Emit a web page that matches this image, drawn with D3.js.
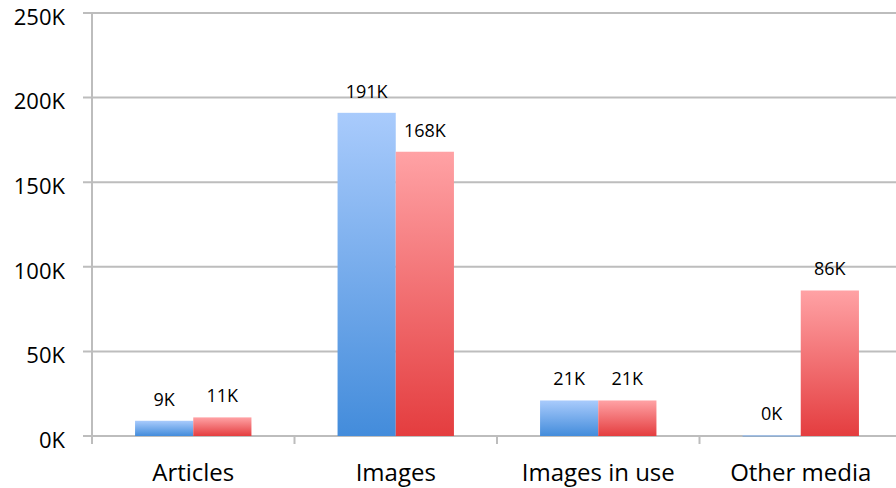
<!DOCTYPE html>
<html>
<head>
<meta charset="utf-8">
<script src="https://cdn.jsdelivr.net/npm/d3@7"></script>
<style>
  body { margin: 0; background: #fff; }
  svg { display: block; font-family: 'Open Sans', sans-serif; }
</style>
</head>
<body>
<svg width="896" height="488"></svg>
<script>
'use strict';
const categories = ['Articles', 'Images', 'Images in use', 'Other media'];
const seriesA = [9, 191, 21, 0.4];   // blue, in K
const seriesB = [11, 168, 21, 86];   // red, in K
const yTicks = [0, 50, 100, 150, 200, 250];

(() => {
const svg = d3.select('svg');
const plotLeft = 92, plotRight = 902, plotTop = 13, plotBottom = 436;

const x = d3.scaleBand().domain(categories).range([plotLeft, plotRight]).paddingInner(0).paddingOuter(0);
const y = d3.scaleLinear().domain([0, 250]).range([plotBottom, plotTop]);
const inner = d3.scaleBand().domain(['a', 'b']).range([0, x.bandwidth()]).paddingOuter(0.74).paddingInner(0);

const defs = svg.append('defs');
function grad(id, c1, c2) {
  const g = defs.append('linearGradient').attr('id', id)
    .attr('x1', 0).attr('y1', 0).attr('x2', 0).attr('y2', 1);
  g.append('stop').attr('offset', '0%').attr('stop-color', c1);
  g.append('stop').attr('offset', '100%').attr('stop-color', c2);
}
grad('gBlue', '#a9cbfc', '#438cdb');
grad('gRed', '#ffa2a5', '#e43d3f');

// gridlines
svg.append('g').selectAll('line').data(yTicks).join('line')
  .attr('x1', plotLeft - 9).attr('x2', 896)
  .attr('y1', d => y(d)).attr('y2', d => y(d))
  .attr('stroke', '#bdbdbd').attr('stroke-width', 2);

// y axis labels (sit a little below their gridline, as in the original)
svg.append('g').selectAll('text').data(yTicks).join('text')
  .attr('x', 65).attr('y', d => y(d))
  .attr('dy', '0.54em').attr('text-anchor', 'end')
  .attr('font-size', 22).attr('fill', '#000')
  .text(d => d + 'K');

// x ticks at band boundaries
const bounds = categories.map(c => x(c)).concat([plotRight]);
svg.append('g').selectAll('line').data(bounds).join('line')
  .attr('x1', d => d).attr('x2', d => d)
  .attr('y1', plotBottom).attr('y2', plotBottom + 8)
  .attr('stroke', '#bdbdbd').attr('stroke-width', 2);

// y axis line
svg.append('line').attr('x1', plotLeft).attr('x2', plotLeft)
  .attr('y1', plotTop).attr('y2', plotBottom + 8)
  .attr('stroke', '#bdbdbd').attr('stroke-width', 2);

const rows = categories.map((c, i) => ({ c, a: seriesA[i], b: seriesB[i] }));
const groups = svg.append('g').selectAll('g').data(rows).join('g')
  .attr('transform', d => `translate(${x(d.c)},0)`);

const bars = groups.selectAll('g.bar').data(d => [
  { k: 'a', v: d.a, fill: 'url(#gBlue)' },
  { k: 'b', v: d.b, fill: 'url(#gRed)' }
]).join('g').attr('class', 'bar');

bars.append('rect')
  .attr('x', d => inner(d.k))
  .attr('width', inner.bandwidth())
  .attr('y', d => y(d.v))
  .attr('height', d => Math.max(1, y(0) - y(d.v)))
  .attr('fill', d => d.fill);

bars.append('text')
  .attr('x', d => inner(d.k) + inner.bandwidth() / 2)
  .attr('y', d => y(d.v) - 15)
  .attr('text-anchor', 'middle')
  .attr('font-size', 18).attr('fill', '#000')
  .text(d => Math.round(d.v) + 'K');

// category labels
svg.append('g').selectAll('text').data(categories).join('text')
  .attr('x', d => x(d) + x.bandwidth() / 2)
  .attr('y', 481)
  .attr('text-anchor', 'middle')
  .attr('font-size', 24).attr('fill', '#000')
  .text(d => d);
})();
</script>
</body>
</html>
